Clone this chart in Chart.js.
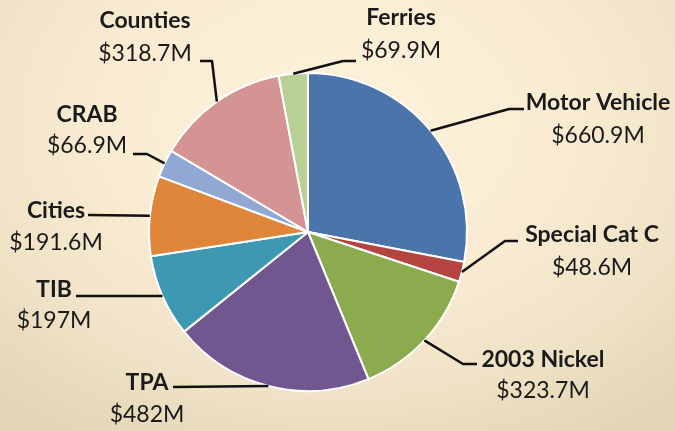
<!DOCTYPE html>
<html>
<head>
<meta charset="utf-8">
<script src="https://cdn.jsdelivr.net/npm/chart.js@4.4.0/dist/chart.umd.min.js"></script>
<style>
  html, body { margin: 0; padding: 0; }
  body {
    width: 675px; height: 431px; overflow: hidden;
    background: radial-gradient(ellipse 75% 85% at 50% 28%, #fdf2dc 0%, #f9ecd2 45%, #efe2c6 75%, #e3d5b5 100%);
  }
  canvas { display: block; }
</style>
</head>
<body>
<canvas id="pie" width="675" height="431"></canvas>
<script>
// funding sources, $ millions (clockwise from 12 o'clock)
const categories = ["Motor Vehicle", "Special Cat C", "2003 Nickel", "TPA", "TIB", "Cities", "CRAB", "Counties", "Ferries"];
const amounts = [660.9, 48.6, 323.7, 482, 197, 191.6, 66.9, 318.7, 69.9];
const valueLabels = ["$660.9M", "$48.6M", "$323.7M", "$482M", "$197M", "$191.6M", "$66.9M", "$318.7M", "$69.9M"];

const sliceColors = ["#4a74aa", "#b5433f", "#8cab4f", "#71578f", "#3f98b2", "#df863a", "#91a8d4", "#d39493", "#b9d095"];

// where each label sits and the bend of its leader line
const labelLayout = [
  { x: 598, name: 110, value: 143, line: [[524, 109], [509, 109]] },
  { x: 592, name: 242, value: 275, line: [[518, 241], [505, 241]] },
  { x: 543, name: 367, value: 398, line: [[477, 364], [463, 364]] },
  { x: 147, name: 390, value: 422, line: [[173, 387]] },
  { x: 54,  name: 297, value: 328, line: [[76, 296]] },
  { x: 56,  name: 218, value: 250, line: [[88, 215]] },
  { x: 87,  name: 122, value: 153, line: [[133, 154], [147, 154]] },
  { x: 145, name: 28,  value: 61,  line: [[200, 61], [212, 61]] },
  { x: 401, name: 25,  value: 58,  line: [[356, 61], [343, 61]] }
];

const calloutPlugin = {
  id: "callouts",
  afterDraw(chart) {
    const ctx = chart.ctx;
    const arcs = chart.getDatasetMeta(0).data;
    ctx.save();
    arcs.forEach((arc, i) => {
      const p = arc.getProps(["x", "y", "startAngle", "endAngle", "outerRadius"], true);
      const mid = (p.startAngle + p.endAngle) / 2;
      const ex = p.x + Math.cos(mid) * p.outerRadius;
      const ey = p.y + Math.sin(mid) * p.outerRadius;
      const lay = labelLayout[i];

      ctx.beginPath();
      ctx.strokeStyle = "#111";
      ctx.lineWidth = 2.5;
      ctx.lineJoin = "round";
      ctx.moveTo(lay.line[0][0], lay.line[0][1]);
      for (let k = 1; k < lay.line.length; k++) ctx.lineTo(lay.line[k][0], lay.line[k][1]);
      ctx.lineTo(ex, ey);
      ctx.stroke();

      ctx.fillStyle = "#1a1a1a";
      ctx.textAlign = "center";
      ctx.textBaseline = "alphabetic";
      ctx.font = "bold 23px Lato";
      ctx.fillText(categories[i], lay.x, lay.name);
      ctx.font = "23px Lato";
      ctx.fillText(valueLabels[i], lay.x, lay.value);
    });
    ctx.restore();
  }
};

new Chart(document.getElementById("pie"), {
  type: "pie",
  data: {
    labels: categories,
    datasets: [{
      data: amounts,
      backgroundColor: sliceColors,
      borderColor: "#ffffff",
      borderWidth: 2
    }]
  },
  options: {
    responsive: false,
    animation: false,
    layout: { padding: { left: 148, top: 72, right: 207, bottom: 39 } },
    plugins: {
      legend: { display: false },
      tooltip: { enabled: false }
    }
  },
  plugins: [calloutPlugin]
});
</script>
</body>
</html>
